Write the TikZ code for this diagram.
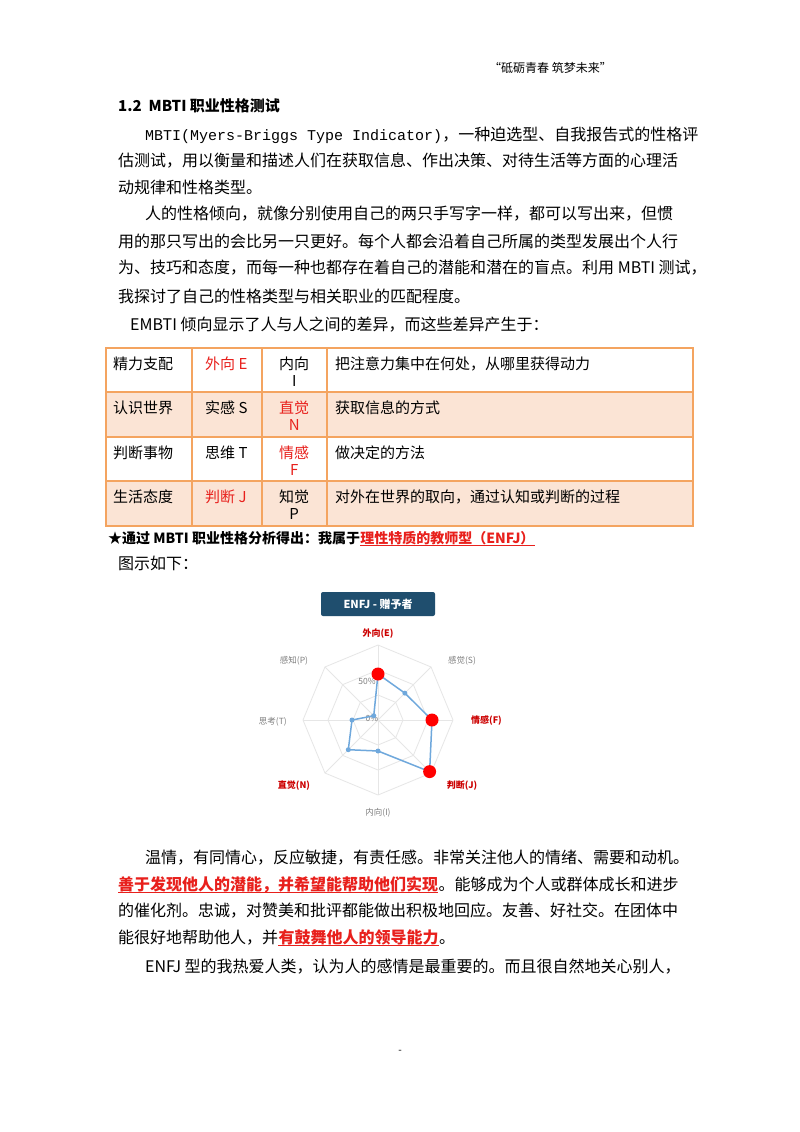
\documentclass[tikz,border=0pt]{standalone}
\usepackage{fontspec}
\setmainfont{Noto Sans CJK SC}
\newfontfamily\monof{Liberation Mono}
\usetikzlibrary{calc}
\definecolor{tbor}{HTML}{F4A460}
\definecolor{tfill}{HTML}{FBE4D5}
\definecolor{ttl}{HTML}{1F4E6E}
\definecolor{redt}{HTML}{E8201C}
\definecolor{ser}{HTML}{6FA8DC}
\definecolor{grd}{HTML}{E6E6E6}
\begin{document}
\begin{tikzpicture}[x=1pt,y=-1pt,
  txt/.style={anchor=west,inner sep=0pt,font=\fontsize{16}{18}\selectfont},
  cell/.style={anchor=north west,inner sep=0pt,font=\fontsize{15}{17}\selectfont,align=center},
  lab/.style={inner sep=0pt,font=\fontsize{8.5}{10}\selectfont,text=gray},
  rlab/.style={inner sep=0pt,font=\bfseries\fontsize{9}{10}\selectfont,text=red!80!black},
  uln/.style={redt,line width=1pt},
  dot/.style={circle,fill=ser,inner sep=0pt,minimum size=5pt},
  bdot/.style={circle,fill=red,inner sep=0pt,minimum size=13pt}]
\fill[white] (0,0) rectangle (800,1132);
\useasboundingbox (0,0) rectangle (800,1132);
\node[anchor=east,inner sep=0pt,font=\fontsize{12}{14}\selectfont] (hdr) at (612,68) {“砥砺青春\ 筑梦未来”};
\node[txt,font=\bfseries\fontsize{15}{17}\selectfont] (h) at (118,106) {1.2\ \ MBTI 职业性格测试};
\node[txt] (p1) at (145,135) {{\monof\fontsize{15}{17}\selectfont MBTI(Myers-Briggs Type Indicator)}，一种迫选型、自我报告式的性格评};
\node[txt] (p2) at (118,161) {估测试，用以衡量和描述人们在获取信息、作出决策、对待生活等方面的心理活};
\node[txt] (p3) at (118,187) {动规律和性格类型。};
\node[txt] (p4) at (145,214) {人的性格倾向，就像分别使用自己的两只手写字一样，都可以写出来，但惯};
\node[txt] (p5) at (118,241) {用的那只写出的会比另一只更好。每个人都会沿着自己所属的类型发展出个人行};
\node[txt] (p6) at (118,268) {为、技巧和态度，而每一种也都存在着自己的潜能和潜在的盲点。利用 MBTI 测试，};
\node[txt] (p7) at (118,296) {我探讨了自己的性格类型与相关职业的匹配程度。};
\node[txt] (p8) at (130,325) {EMBTI 倾向显示了人与人之间的差异，而这些差异产生于：};
% table
\fill[tfill] (106,392) rectangle (693,437);
\fill[tfill] (106,481) rectangle (693,526);
\draw[tbor,line width=1.2pt] (106,348) rectangle (693,526);
\foreach \y in {392,437,481} \draw[tbor,line width=1.2pt] (106,\y) -- (693,\y);
\foreach \x in {192,262,327} \draw[tbor,line width=1.2pt] (\x,348) -- (\x,526);
\node[cell] (a1) at (113,357) {精力支配};
\node[cell,text=redt] (b1) at (205,357) {外向 E};
\node[cell,text width=50pt] (c1) at (269,357) {内向\\I};
\node[cell] (d1) at (335,357) {把注意力集中在何处，从哪里获得动力};
\node[cell] (a2) at (113,401) {认识世界};
\node[cell] (b2) at (205,401) {实感 S};
\node[cell,text width=50pt,text=redt] (c2) at (269,401) {直觉\\N};
\node[cell] (d2) at (335,401) {获取信息的方式};
\node[cell] (a3) at (113,446) {判断事物};
\node[cell] (b3) at (205,446) {思维 T};
\node[cell,text width=50pt,text=redt] (c3) at (269,446) {情感\\F};
\node[cell] (d3) at (335,446) {做决定的方法};
\node[cell] (a4) at (113,490) {生活态度};
\node[cell,text=redt] (b4) at (205,490) {判断 J};
\node[cell,text width=50pt] (c4) at (269,490) {知觉\\P};
\node[cell] (d4) at (335,490) {对外在世界的取向，通过认知或判断的过程};
\node[txt,font=\bfseries\fontsize{14}{16}\selectfont] (star) at (108,538) {★通过 MBTI 职业性格分析得出：我属于};
\node[txt,font=\bfseries\fontsize{14}{16}\selectfont,text=redt,anchor=base west] (starr) at (star.base east) {理性特质的教师型（ENFJ）};
\draw[uln] ([yshift=-2pt]starr.base west) -- ([yshift=-2pt]starr.base east);
\node[txt] (fig) at (118,563) {图示如下：};
% chart
\node[fill=ttl,rounded corners=2pt,text=white,font=\bfseries\fontsize{11}{13}\selectfont,minimum width=114pt,minimum height=24pt,inner sep=0pt] (ttl) at (378,604) {ENFJ - 赠予者};
\coordinate (O) at (378,720);
\foreach \r in {25,50,75}
  \draw[grd,line width=0.8pt] ($(O)+(0,-\r)$) \foreach \a in {45,0,-45,-90,-135,180,135} { -- ($(O)+({cos(\a)*\r},{-sin(\a)*\r})$) } -- cycle;
\foreach \a in {90,45,0,-45,-90,-135,180,135} \draw[grd,line width=0.8pt] (O) -- ($(O)+({cos(\a)*75},{-sin(\a)*75})$);
\node[lab] (l50) at (367,681) {50\%};
\node[lab] (l0) at (372,718) {0\%};
\coordinate (vE) at ($(O)+(0,-46)$);
\coordinate (vS) at ($(O)+({cos(45)*38},{-sin(45)*38})$);
\coordinate (vF) at ($(O)+(54,0)$);
\coordinate (vJ) at ($(O)+({cos(45)*73},{sin(45)*73})$);
\coordinate (vI) at ($(O)+(0,31)$);
\coordinate (vN) at ($(O)+({-cos(45)*42},{sin(45)*42})$);
\coordinate (vT) at ($(O)+(-26,0)$);
\coordinate (vP) at ($(O)+({-cos(45)*6},{-sin(45)*6})$);
\draw[ser,line width=1.5pt,line join=round] (vE) -- (vS) -- (vF) -- (vJ) -- (vI) -- (vN) -- (vT) -- (vP) -- cycle;
\foreach \v in {vS,vI,vN,vT,vP} \node[dot] at (\v) {};
\foreach \v in {vE,vF,vJ} \node[bdot] at (\v) {};
\node[rlab] (tE) at (378,634) {外向(E)};
\node[lab] (tS) at (462,661) {感觉(S)};
\node[rlab,anchor=west] (tF) at (471,721) {情感(F)};
\node[rlab] (tJ) at (462,786) {判断(J)};
\node[lab] (tI) at (378,813) {内向(I)};
\node[rlab] (tN) at (294,786) {直觉(N)};
\node[lab,anchor=east] (tT) at (287,722) {思考(T)};
\node[lab] (tP) at (294,661) {感知(P)};
% bottom paragraph
\node[txt] (q1) at (145,858) {温情，有同情心，反应敏捷，有责任感。非常关注他人的情绪、需要和动机。};
\node[txt,font=\bfseries\fontsize{16}{18}\selectfont,text=redt] (q2r) at (118,885) {善于发现他人的潜能，并希望能帮助他们实现};
\draw[uln] ([yshift=-2pt]q2r.base west) -- ([yshift=-2pt]q2r.base east);
\node[txt,anchor=base west] (q2) at (q2r.base east) {。能够成为个人或群体成长和进步};
\node[txt] (q3) at (118,911) {的催化剂。忠诚，对赞美和批评都能做出积极地回应。友善、好社交。在团体中};
\node[txt] (q4a) at (118,938) {能很好地帮助他人，并};
\node[txt,anchor=base west,font=\bfseries\fontsize{16}{18}\selectfont,text=redt] (q4r) at (q4a.base east) {有鼓舞他人的领导能力};
\draw[uln] ([yshift=-2pt]q4r.base west) -- ([yshift=-2pt]q4r.base east);
\node[txt,anchor=base west] (q4b) at (q4r.base east) {。};
\node[txt] (q5) at (145,967) {ENFJ 型的我热爱人类，认为人的感情是最重要的。而且很自然地关心别人，};
\node[inner sep=0pt,font=\fontsize{10}{12}\selectfont] (foot) at (400,1052) {-};
\end{tikzpicture}
\end{document}
